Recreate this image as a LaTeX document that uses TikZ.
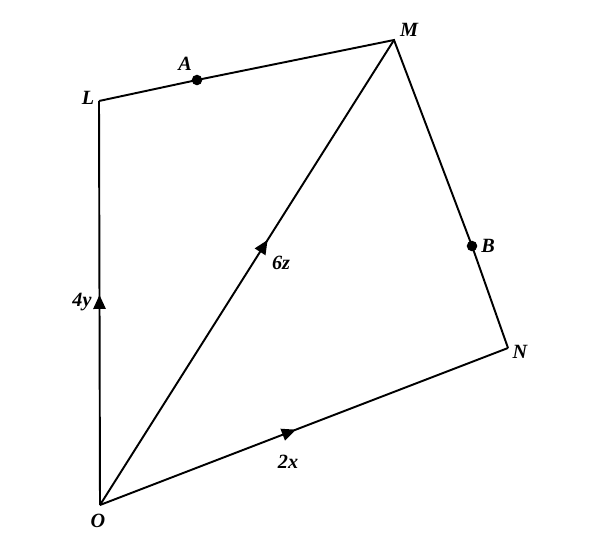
\documentclass[tikz,border=0pt]{standalone}
\usepackage{fontspec}
\setmainfont{Liberation Serif}
\usetikzlibrary{decorations.markings,arrows.meta}
\begin{document}
\begin{tikzpicture}[x=0.02cm, y=-0.02cm,
        etiq/.style={font=\fontsize{11.5}{13}\selectfont\bfseries\itshape, inner sep=1pt},
        point/.style={circle, fill=black, inner sep=0pt, minimum size=6pt},
        vec/.style={decoration={markings, mark=at position #1 with {\arrow{Triangle[length=8pt, width=7pt]}}}, postaction={decorate}}]
        \useasboundingbox (0,0) rectangle (594,538);

        \coordinate (O) at (100, 505);
        \coordinate (L) at (99, 101);
        \coordinate (M) at (394, 40);
        \coordinate (N) at (508, 348);
        \node[point] (A) at (197, 80) {};
        \node[point] (B) at (472, 246) {};

        \draw[line width=1.1pt] (L) to (A.center) to (M) to (B.center) to (N);
        \draw[line width=1.1pt, vec=0.52] (O) to (L);
        \draw[line width=1.1pt, vec=0.57] (O) to (M);
        \draw[line width=1.1pt, vec=0.48] (O) to (N);

        \node[etiq] (lL) at (88, 98) {L};
        \node[etiq] (lA) at (185, 64) {A};
        \node[etiq] (lM) at (409, 30) {M};
        \node[etiq] (lB) at (488, 246) {B};
        \node[etiq] (lN) at (520, 352) {N};
        \node[etiq] (lO) at (98, 521) {O};
        \node[etiq] (l4y) at (82, 302) {4y};
        \node[etiq] (l6z) at (281, 263) {6z};
        \node[etiq] (l2x) at (288, 462) {2x};
\end{tikzpicture}
\end{document}
